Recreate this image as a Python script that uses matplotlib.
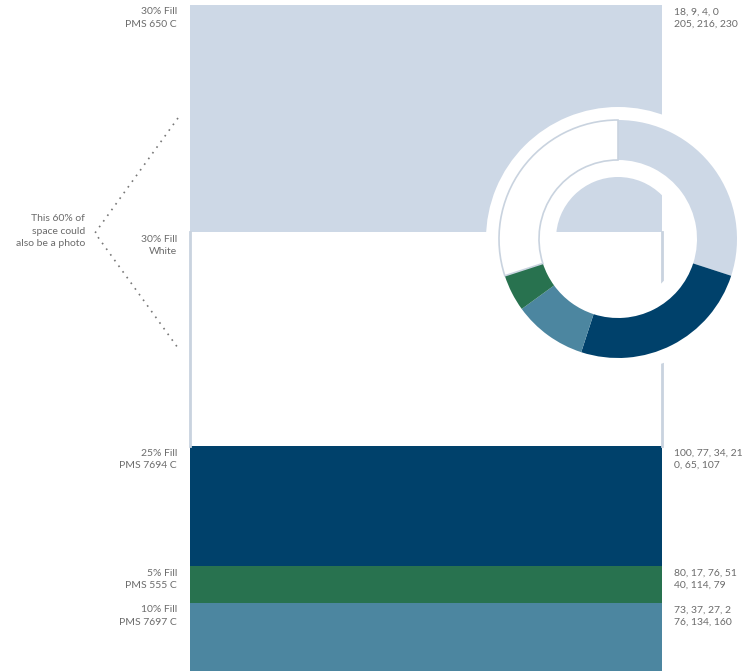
import matplotlib
matplotlib.use("Agg")
import matplotlib.pyplot as plt

# swatch data, top to bottom
fills = ["30% Fill", "30% Fill", "25% Fill", "5% Fill", "10% Fill"]
names = ["PMS 650 C", "White", "PMS 7694 C", "PMS 555 C", "PMS 7697 C"]
cmyk = ["18, 9, 4, 0", None, "100, 77, 34, 21", "80, 17, 76, 51", "73, 37, 27, 2"]
rgb = ["205, 216, 230", "255, 255, 255", "0, 65, 107", "40, 114, 79", "76, 134, 160"]
shares = [30, 30, 25, 5, 10]
# swatch heights as drawn (px), the last one runs off the page
heights = [227, 214, 120, 37, 68]
# order of the slices round the donut, clockwise from 12 o'clock
pie_order = [0, 2, 4, 3, 1]

note = "This 60% of\nspace could\nalso be a photo"

W, H = 744, 671
TXT = "#6b6b6b"
EDGE = "#c9d3df"
FS = 7.5


def to_color(s):
    return tuple(int(v) / 255 for v in s.split(","))


colors = [to_color(c) for c in rgb]

plt.rcParams["font.family"] = ["Lato", "DejaVu Sans"]
fig = plt.figure(figsize=(W / 100, H / 100), dpi=100)
ax = fig.add_axes([0, 0, 1, 1])
ax.set_xlim(0, W)
ax.set_ylim(H, 0)
ax.axis("off")

x0, x1 = 190, 662
top = 5
bottoms = []
y = top
for h in heights:
    bottoms.append(y)
    y += h

ax.bar([(x0 + x1) / 2] * len(heights), heights, bottom=bottoms,
       width=x1 - x0, color=colors, linewidth=0)

# outline of the white swatch
wb, wh = bottoms[1], heights[1]
ax.plot([x0, x0], [wb, wb + wh], color=EDGE, lw=2)
ax.plot([x1, x1], [wb, wb + wh], color=EDGE, lw=2)

for i in range(len(heights)):
    yt = bottoms[i] + 2.5
    ax.text(177, yt, fills[i] + "\n" + names[i], ha="right", va="top",
            fontsize=FS, color=TXT, linespacing=1.45)
    if cmyk[i]:
        ax.text(674, yt, cmyk[i] + "\n" + rgb[i], ha="left", va="top",
                fontsize=FS, color=TXT, linespacing=1.45)

ax.text(85, 231, note, ha="right", va="center", fontsize=FS, color=TXT,
        linespacing=1.45)
ax.plot([178, 95, 178], [118, 233, 348], color="#777777", lw=1.2,
        linestyle=(0, (1, 3.2)))

# donut
cx, cy, R = 618, 239, 132
ax2 = fig.add_axes([(cx - R) / W, (H - cy - R) / H, 2 * R / W, 2 * R / H])
ax2.pie([1], radius=R, colors=["white"], wedgeprops=dict(width=R - 62, linewidth=0))
wedges, _ = ax2.pie([shares[i] for i in pie_order], radius=119,
                    colors=[colors[i] for i in pie_order], startangle=90,
                    counterclock=False, wedgeprops=dict(width=40, linewidth=0))
wedges[-1].set_edgecolor(EDGE)
wedges[-1].set_linewidth(1.2)
ax2.set_xlim(-R, R)
ax2.set_ylim(-R, R)
ax2.set_aspect("equal")
ax2.axis("off")

fig.savefig("out.png", dpi=100)
